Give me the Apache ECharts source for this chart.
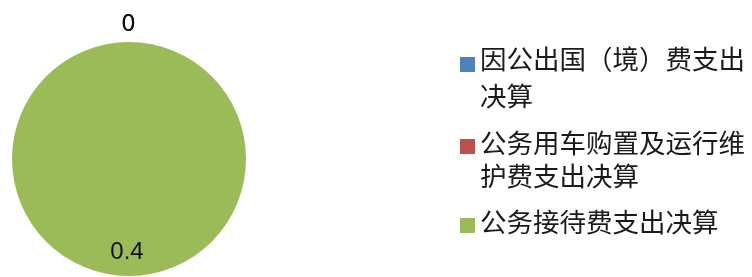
<!DOCTYPE html>
<html>
<head>
<meta charset="utf-8">
<script src="https://cdn.jsdelivr.net/npm/echarts@6/dist/echarts.min.js"></script>
<style>
  html, body { margin: 0; padding: 0; background: #fff; }
  #chart { width: 752px; height: 277px; }
</style>
</head>
<body>
<div id="chart"></div>
<script>
// ---- data ----
const categories = ['因公出国（境）费支出决算', '公务用车购置及运行维护费支出决算', '公务接待费支出决算'];
const values = [0, 0, 0.4];
const legendLines = [
  ['因公出国（境）费支出', '决算'],
  ['公务用车购置及运行维', '护费支出决算'],
  ['公务接待费支出决算']
];
const colors = ['#4F81BD', '#C0504D', '#9BBB59'];

// ---- chart ----
const chart = echarts.init(document.getElementById('chart'));

// per-item legend styling: line height, top of the item, and icon offset below line-1 centre
const legendStyle = [
  { top: 40, lineHeight: 37, iconOff: 6 },
  { top: 126, lineHeight: 33, iconOff: 4 },
  { top: 204, lineHeight: 35, iconOff: 4 }
];
const ICON = 15;

function iconPath(lh, nLines, off) {
  // square placed beside the first text line inside a box as tall as the text block
  const h = lh * nLines;
  const y0 = lh / 2 + off - ICON / 2;
  const y1 = y0 + ICON;
  return 'path://M0,' + y0 + 'L' + ICON + ',' + y0 + 'L' + ICON + ',' + y1 + 'L0,' + y1 + 'Z' +
    'M0,0L0.01,0Z' + 'M' + ICON + ',' + h + 'L' + (ICON - 0.01) + ',' + h + 'Z';
}

const legends = categories.map((name, i) => {
  const st = legendStyle[i];
  const n = legendLines[i].length;
  return {
    data: [name],
    orient: 'vertical',
    left: 460,
    top: st.top,
    padding: 0,
    itemWidth: ICON,
    itemHeight: st.lineHeight * n,
    itemGap: 0,
    icon: iconPath(st.lineHeight, n, st.iconOff),
    selectedMode: false,
    formatter: () => legendLines[i].join('\n'),
    textStyle: {
      fontFamily: '"Noto Sans CJK SC", sans-serif',
      fontSize: 26.5,
      color: '#1a1a1a',
      lineHeight: st.lineHeight
    }
  };
});

chart.setOption({
  animation: false,
  color: colors,
  legend: legends,
  series: [{
    type: 'pie',
    center: [129, 159],
    radius: 117,
    startAngle: 90,
    clockwise: true,
    avoidLabelOverlap: false,
    itemStyle: { borderWidth: 0 },
    label: {
      show: true,
      position: 'inside',
      formatter: '{c}',
      fontFamily: '"Liberation Sans", Arial, sans-serif',
      fontSize: 24,
      color: '#111'
    },
    labelLine: { show: false },
    emphasis: { disabled: true },
    labelLayout: function (params) {
      return params.dataIndex === 2 ? { dx: -2, dy: 32 } : { dx: -0.5, dy: -73 };
    },
    data: categories.map((name, i) => ({ name: name, value: values[i] }))
  }]
});
</script>
</body>
</html>
